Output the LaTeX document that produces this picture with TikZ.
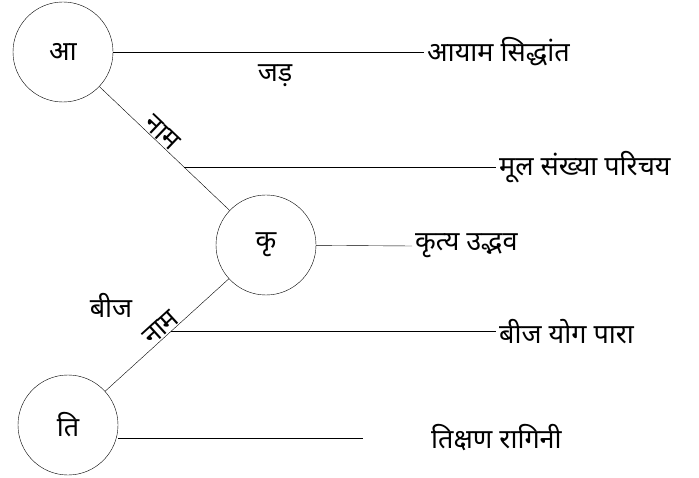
\documentclass[tikz,border=0pt]{standalone}
\usepackage{fontspec}
\newfontfamily\devfont[Script=Devanagari]{Noto Sans}
\usetikzlibrary{positioning}

\tikzset{
  gun/.style={circle, draw, minimum size=100pt, inner sep=0pt},
  lbl/.style={anchor=west, inner sep=3pt},
  naam/.style={sloped, above, inner sep=1pt},
}

\begin{document}
\begin{tikzpicture}[x=1pt, y=-1pt, font=\devfont\fontsize{27}{30}\selectfont]
  \useasboundingbox (0,0) rectangle (699,478);

  % circles
  \node[gun] (aa) at (63,52)  {आ};
  \node[gun] (ka) at (266,245) {कृ};
  \node[gun] (ti) at (68,425) {ति};

  % links between the circles
  \draw (aa) -- node[naam, pos=0.43] {नाम} coordinate[pos=0.65] (j1) (ka);
  \draw (ka) -- node[naam, pos=0.5] {नाम} coordinate[pos=0.47] (j2) (ti);

  \node at (275,76)  {जड़};
  \node at (111,305) {बीज};

  % side labels
  \node[lbl] (t1) at (424,52)  {आयाम सिद्धांत};
  \node[lbl] (t2) at (j1 -| 496,0) {मूल संख्या परिचय};
  \node[lbl] (t3) at (412,246) {कृत्य उद्भव};
  \node[lbl] (t4) at (j2 -| 496,0) {बीज योग पारा};
  \node[lbl] (t5) at (428,438) {तिक्षण रागिनी};
  \coordinate (e5) at (363,438);

  \draw (aa) -- (t1.west);
  \draw (j1) -- (t2.west);
  \draw (ka) -- (t3.west);
  \draw (j2) -- (t4.west);
  \draw (ti.east |- e5) -- (e5);
\end{tikzpicture}
\end{document}
